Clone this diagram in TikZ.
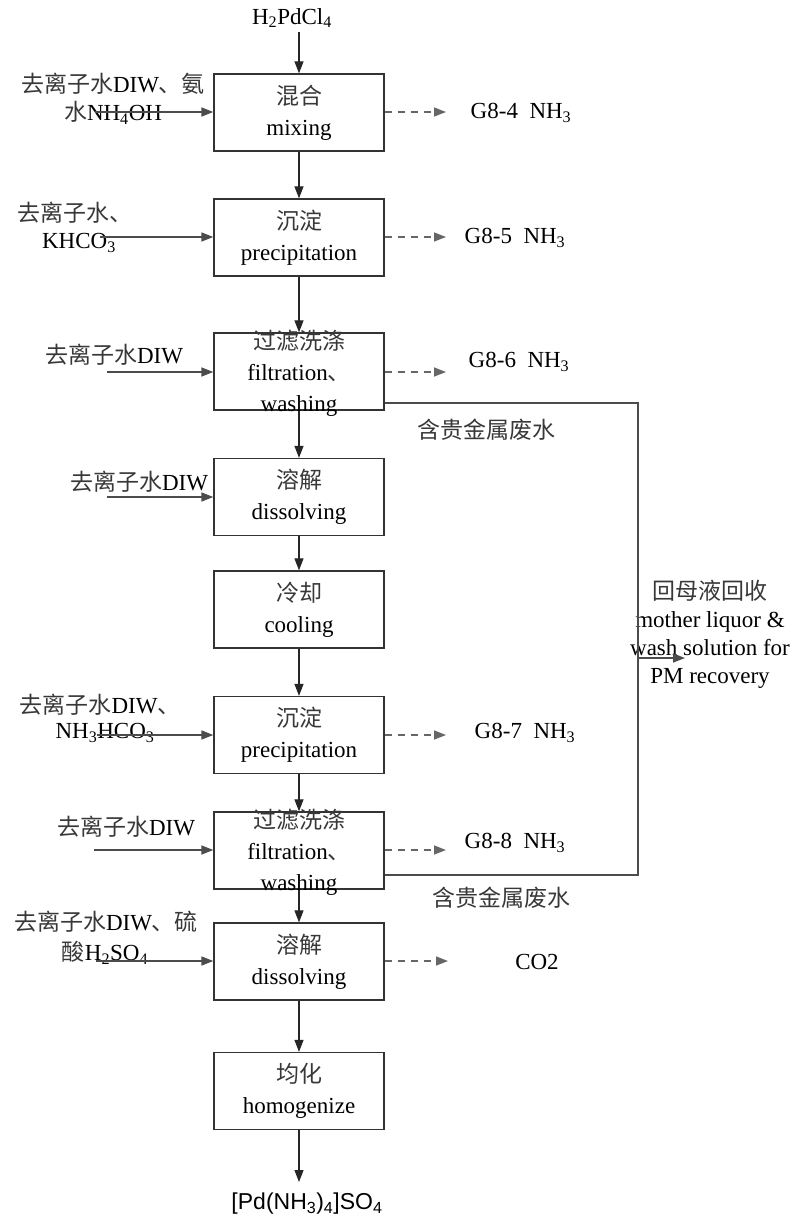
\documentclass[tikz,border=0pt]{standalone}
\usepackage{fontspec}
\setmainfont{Liberation Serif}
\newfontfamily\cjk{Noto Sans CJK SC}
\newfontfamily\arialish{Liberation Sans}
\usetikzlibrary{arrows.meta,calc}
\newcommand{\zh}[1]{{\cjk\color{black!78}#1}}
\newcommand{\sub}[1]{\textsubscript{#1}}
\tikzset{
  stage/.style={draw=black!80, line width=1.3pt, minimum width=170pt, minimum height=77pt, inner sep=0pt},
  stagetext/.style={align=center, font=\fontsize{23}{31}\selectfont, inner sep=0pt},
  lbl/.style={align=center, font=\fontsize{23}{29}\selectfont, inner sep=0pt},
  flow/.style={draw=black!85, line width=1.2pt, -{Triangle[length=12pt,width=9pt]}},
  feed/.style={draw=black!70, line width=1.5pt, -{Triangle[length=12pt,width=9pt]}},
  vent/.style={draw=black!60, line width=1.5pt, dash pattern=on 7pt off 6pt, -{Triangle[length=12pt,width=9pt]}},
  recyc/.style={draw=black!70, line width=1.4pt}
}
\begin{document}
\begin{tikzpicture}[x=1pt, y=-1pt]
\useasboundingbox (0,0) rectangle (795,1218);

% ---- process stages ----
\node[stage] (b1) at (299,112.5) {};
\node[stage] (b2) at (299,237.5) {};
\node[stage] (b3) at (299,371.5) {};
\node[stage] (b4) at (299,497) {};
\node[stage] (b5) at (299,609.5) {};
\node[stage] (b6) at (299,735) {};
\node[stage] (b7) at (299,850.5) {};
\node[stage] (b8) at (299,961.5) {};
\node[stage] (b9) at (299,1091) {};

\node[stagetext] (t1) at (b1) {\zh{混合}\\mixing};
\node[stagetext] (t2) at (b2) {\zh{沉淀}\\precipitation};
\node[stagetext] (t3) at (299,373) {\zh{过滤洗涤}\\filtration\zh{、}\\washing};
\node[stagetext] (t4) at (b4) {\zh{溶解}\\dissolving};
\node[stagetext] (t5) at (b5) {\zh{冷却}\\cooling};
\node[stagetext] (t6) at (b6) {\zh{沉淀}\\precipitation};
\node[stagetext] (t7) at (299,852) {\zh{过滤洗涤}\\filtration\zh{、}\\washing};
\node[stagetext] (t8) at (b8) {\zh{溶解}\\dissolving};
\node[stagetext] (t9) at (b9) {\zh{均化}\\homogenize};

% ---- feed and product texts ----
\node[lbl] (src) at (292,18) {H\sub{2}PdCl\sub{4}};
\node[lbl, font=\arialish\fontsize{23}{29}\selectfont] (prod) at (307,1204) {[Pd(NH\sub{3})\sub{4}]SO\sub{4}};

\node[lbl] (f1a) at (113,84) {\zh{去离子水}DIW\zh{、氨}};
\node[lbl] (f1b) at (113,113) {\zh{水}NH\sub{4}OH};
\node[lbl] (f2a) at (75,213) {\zh{去离子水、}};
\node[lbl] (f2b) at (79,243) {KHCO\sub{3}};
\node[lbl] (f3) at (114,355) {\zh{去离子水}DIW};
\node[lbl] (f4) at (139,482) {\zh{去离子水}DIW};
\node[lbl] (f6a) at (100,705) {\zh{去离子水}DIW\zh{、}};
\node[lbl] (f6b) at (105,733) {NH\sub{3}HCO\sub{3}};
\node[lbl] (f7) at (126,827) {\zh{去离子水}DIW};
\node[lbl] (f8a) at (106,922) {\zh{去离子水}DIW\zh{、硫}};
\node[lbl] (f8b) at (105,953) {\zh{酸}H\sub{2}SO\sub{4}};

% ---- off-gas texts ----
\node[lbl] (g1) at (521,113) {G8-4\ \ NH\sub{3}};
\node[lbl] (g2) at (515,238) {G8-5\ \ NH\sub{3}};
\node[lbl] (g3) at (519,362) {G8-6\ \ NH\sub{3}};
\node[lbl] (g6) at (525,733) {G8-7\ \ NH\sub{3}};
\node[lbl] (g7) at (515,843) {G8-8\ \ NH\sub{3}};
\node[lbl] (g8) at (537,962) {CO2};

% ---- waste water texts ----
\node[lbl] (w3) at (486,430) {\zh{含贵金属废水}};
\node[lbl] (w7) at (501,898) {\zh{含贵金属废水}};
\node[lbl, font=\fontsize{23}{28}\selectfont] (rec) at (710,634)
  {\zh{回母液回收}\\mother liquor \&\\wash solution for\\PM recovery};

% ---- free ends ----
\coordinate (s0) at (299,32);
\coordinate (pend) at (299,1182);
\coordinate (i1) at (95,112);
\coordinate (i2) at (100,237);
\coordinate (i3) at (107,372);
\coordinate (i4) at (107,497);
\coordinate (i6) at (97,735);
\coordinate (i7) at (94,850);
\coordinate (i8) at (96,961);
\coordinate (o1) at (446,112);
\coordinate (o2) at (446,237);
\coordinate (o3) at (446,372);
\coordinate (o6) at (446,735);
\coordinate (o7) at (446,850);
\coordinate (o8) at (448,961);
\coordinate (r1) at (638,403);
\coordinate (r2) at (638,875);
\coordinate (rm) at (638,658);
\coordinate (rt) at (685,658);

% ---- main flow ----
\draw[flow] (s0) -- (b1.north);
\draw[flow] (b1) -- (b2);
\draw[flow] (b2) -- (b3);
\draw[flow] (b3) -- (b4);
\draw[flow] (b4) -- (b5);
\draw[flow] (b5) -- (b6);
\draw[flow] (b6) -- (b7);
\draw[flow] (b7) -- (b8);
\draw[flow] (b8) -- (b9);
\draw[flow] (b9.south) -- (pend);

% ---- feeds ----
\draw[feed] (i1) -- (i1 -| b1.west);
\draw[feed] (i2) -- (i2 -| b2.west);
\draw[feed] (i3) -- (i3 -| b3.west);
\draw[feed] (i4) -- (i4 -| b4.west);
\draw[feed] (i6) -- (i6 -| b6.west);
\draw[feed] (i7) -- (i7 -| b7.west);
\draw[feed] (i8) -- (i8 -| b8.west);

% ---- off-gas ----
\draw[vent] (o1 -| b1.east) -- (o1);
\draw[vent] (o2 -| b2.east) -- (o2);
\draw[vent] (o3 -| b3.east) -- (o3);
\draw[vent] (o6 -| b6.east) -- (o6);
\draw[vent] (o7 -| b7.east) -- (o7);
\draw[vent] (o8 -| b8.east) -- (o8);

% ---- mother liquor recovery ----
\draw[recyc] (b3.east |- r1) -- (r1) -- (r2) -- (b7.east |- r2);
\draw[feed] (rm) -- (rt);
\end{tikzpicture}
\end{document}
